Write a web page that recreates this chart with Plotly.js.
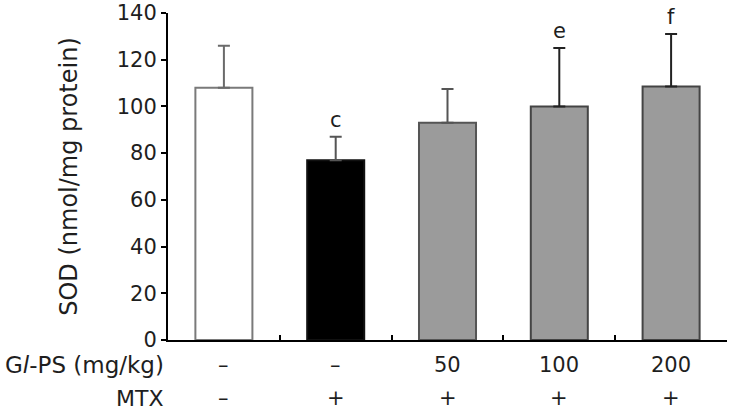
<!DOCTYPE html>
<html>
<head>
<meta charset="utf-8">
<script src="https://cdn.plot.ly/plotly-3.0.1.min.js"></script>
<style>html,body{margin:0;padding:0;background:#fff;}#chart{width:729px;height:412px;}</style>
</head>
<body>
<div id="chart"></div>
<script>
// Data
var groups = ["Control", "MTX", "GlPS 50", "GlPS 100", "GlPS 200"];
var sodMean = [108, 77, 93, 100, 108.5];
var sodSD = [18, 10, 14.5, 25, 22.5];
var sigLabels = ["", "c", "", "e", "f"];
var glpsRow = ["–", "–", "50", "100", "200"];
var mtxRow = ["–", "+", "+", "+", "+"];
var rowTitles = ["G<i>l</i>-PS (mg/kg)", "MTX"];
var yTicks = [0, 20, 40, 60, 80, 100, 120, 140];

// Styles
var fillColors = ["#ffffff", "#000000", "#9b9b9b", "#9b9b9b", "#9b9b9b"];
var lineColors = ["#7a7a7a", "#111111", "#555555", "#444444", "#444444"];
var errColors = ["#6a6a6a", "#555555", "#555555", "#222222", "#222222"];
var FONT = "DejaVu Sans, Verdana, sans-serif";
var TXT = "#1e1e1e";
var PLOT_TOP = 13, PLOT_BOTTOM = 340, PLOT_LEFT = 168, PLOT_RIGHT = 727;
function py(p) { return (PLOT_BOTTOM - p) / (PLOT_BOTTOM - PLOT_TOP); }
function px(p) { return (p - PLOT_LEFT) / (PLOT_RIGHT - PLOT_LEFT); }

var traces = groups.map(function (g, i) {
  return {
    type: "bar",
    x: [i],
    y: [sodMean[i]],
    width: 0.51,
    name: g,
    marker: { color: fillColors[i], line: { color: lineColors[i], width: 2 } },
    error_y: { type: "data", symmetric: false, array: [sodSD[i]], arrayminus: [0], color: errColors[i], thickness: 2, width: 6 },
    showlegend: false,
    hoverinfo: "skip"
  };
});

var rowFont = { family: FONT, size: 21, color: TXT };
var annotations = [];
groups.forEach(function (g, i) {
  if (sigLabels[i]) {
    annotations.push({ x: i, y: sodMean[i] + sodSD[i], xref: "x", yref: "y", text: sigLabels[i], showarrow: false, yanchor: "bottom", yshift: 3, font: { family: FONT, size: 21, color: TXT } });
  }
  annotations.push({ x: i, y: py(365), xref: "x", yref: "paper", text: glpsRow[i], showarrow: false, yanchor: "middle", font: rowFont });
  annotations.push({ x: i, y: py(398), xref: "x", yref: "paper", text: mtxRow[i], showarrow: false, yanchor: "middle", font: rowFont });
});
annotations.push({ x: px(166), y: py(365), xref: "paper", yref: "paper", text: rowTitles[0], showarrow: false, xanchor: "right", yanchor: "middle", font: { family: FONT, size: 23, color: TXT } });
annotations.push({ x: px(166), y: py(398), xref: "paper", yref: "paper", text: rowTitles[1], showarrow: false, xanchor: "right", yanchor: "middle", font: { family: FONT, size: 22, color: TXT } });

var layout = {
  width: 729,
  height: 412,
  margin: { l: PLOT_LEFT, r: 729 - PLOT_RIGHT, t: PLOT_TOP, b: 412 - PLOT_BOTTOM, pad: 0 },
  paper_bgcolor: "#ffffff",
  plot_bgcolor: "#ffffff",
  barmode: "overlay",
  font: { family: FONT, color: TXT, size: 20 },
  xaxis: {
    range: [-0.5, 4.5],
    showgrid: false,
    zeroline: false,
    showline: true,
    linecolor: "#000",
    linewidth: 2,
    ticks: "inside",
    ticklen: 5,
    tickwidth: 2,
    tickcolor: "#000",
    tickmode: "linear",
    tick0: 0.5,
    dtick: 1,
    showticklabels: false
  },
  yaxis: {
    range: [0, 140],
    showgrid: false,
    zeroline: false,
    showline: true,
    linecolor: "#000",
    linewidth: 2,
    ticks: "outside",
    ticklen: 5,
    tickwidth: 2,
    tickcolor: "#000",
    tickmode: "array",
    tickvals: yTicks,
    ticklabeloverflow: "allow",
    tickfont: { family: FONT, size: 21, color: TXT },
    title: { text: "SOD (nmol/mg protein)", font: { family: FONT, size: 24, color: TXT }, standoff: 32 }
  },
  annotations: annotations
};

Plotly.newPlot("chart", traces, layout, { displayModeBar: false, staticPlot: true });
</script>
</body>
</html>
